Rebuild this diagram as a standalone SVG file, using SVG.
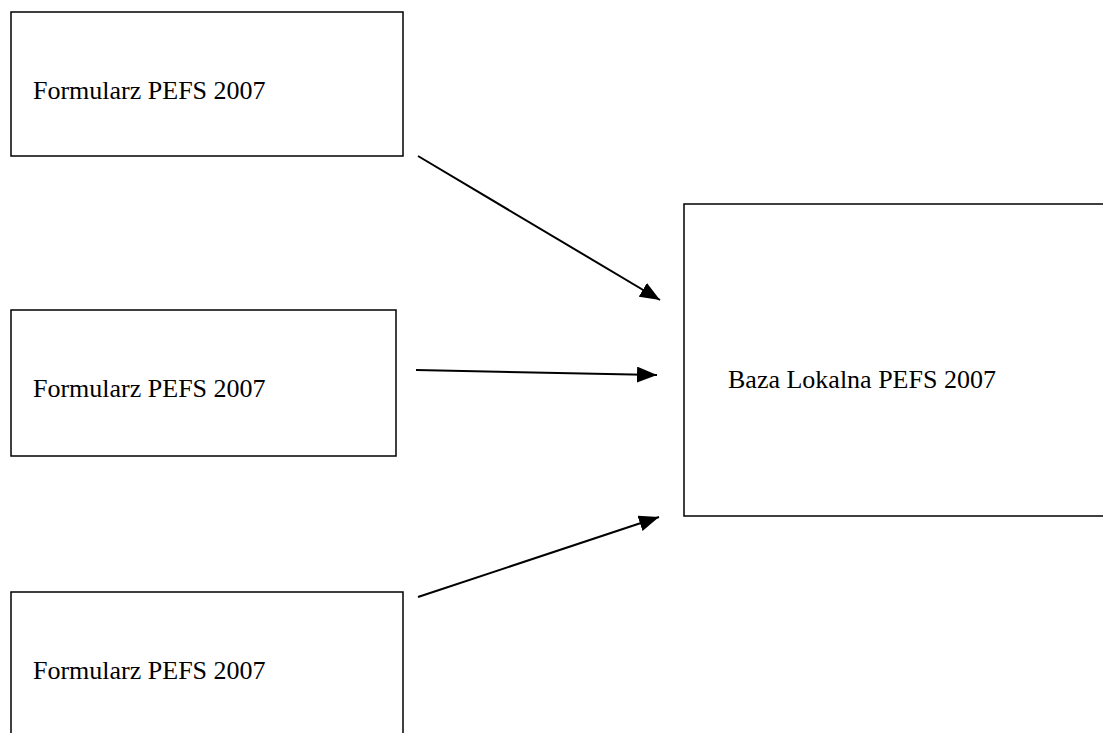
<svg xmlns="http://www.w3.org/2000/svg" width="1103" height="733" viewBox="0 0 1103 733">
<style>
.box{fill:#fff;stroke:#000;stroke-width:1.5}
.lbl{font-family:"Liberation Serif","Times New Roman",serif;font-size:26px;fill:#000}
.conn{stroke:#000;stroke-width:2;fill:none;marker-end:url(#ah)}
</style>
<defs>
<marker id="ah" markerWidth="10" markerHeight="8" refX="10" refY="4" orient="auto" markerUnits="strokeWidth">
<path d="M0,0 L10,4 L0,8 Z" fill="#000"/>
</marker>
</defs>
<rect width="1103" height="733" fill="#fff"/>
<g id="node1"><rect class="box" x="11" y="12" width="392" height="144"/><text class="lbl" x="33" y="99">Formularz PEFS 2007</text></g>
<g id="node2"><rect class="box" x="11" y="310" width="385" height="146"/><text class="lbl" x="33" y="397">Formularz PEFS 2007</text></g>
<g id="node3"><rect class="box" x="11" y="592" width="392" height="150"/><text class="lbl" x="33" y="679">Formularz PEFS 2007</text></g>
<g id="node4"><rect class="box" x="684" y="204" width="430" height="312"/><text class="lbl" x="728" y="388">Baza Lokalna PEFS 2007</text></g>
<g id="connectors">
<line class="conn" x1="418" y1="156" x2="660" y2="300"/>
<line class="conn" x1="416" y1="370" x2="657" y2="375"/>
<line class="conn" x1="418" y1="597" x2="659" y2="517"/>
</g>
</svg>
